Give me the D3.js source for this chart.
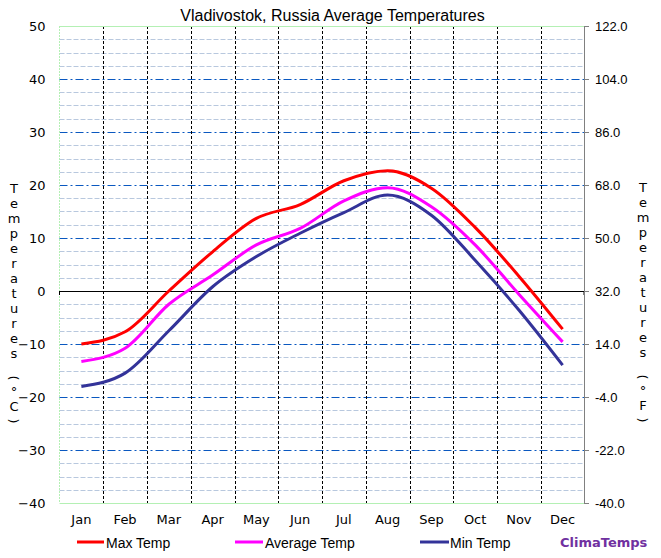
<!DOCTYPE html>
<html>
<head>
<meta charset="utf-8">
<script src="https://cdn.jsdelivr.net/npm/d3@7"></script>
<style>
  html, body { margin: 0; padding: 0; background: #ffffff; }
  svg { display: block; }
</style>
</head>
<body>
<svg id="chart" width="661" height="558"></svg>
<script>
// ---- data ----
const months = ["Jan","Feb","Mar","Apr","May","Jun","Jul","Aug","Sep","Oct","Nov","Dec"];
const maxTemp = [-10.0, -7.7, 0.0, 7.4, 13.7, 16.3, 20.8, 22.7, 19.4, 12.0, 2.8, -7.2];
const avgTemp = [-13.3, -10.8, -2.5, 3.0, 8.7, 11.8, 17.0, 19.5, 15.9, 8.7, -0.6, -9.6];
const minTemp = [-18.0, -15.5, -7.5, 0.8, 6.5, 10.9, 14.8, 18.1, 14.3, 5.8, -3.6, -14.0];
const cTicks = [50, 40, 30, 20, 10, 0, -10, -20, -30, -40];
const fTickLabels = ["122.0","104.0","86.0","68.0","50.0","32.0","14.0","-4.0","-22.0","-40.0"];
const seriesNames = ["Max Temp", "Average Temp", "Min Temp"];
const seriesColors = ["#ff0000", "#ff00ff", "#333399"];
const title = "Vladivostok, Russia Average Temperatures";
const leftTitle = "Temperatures (°C)";
const rightTitle = "Temperatures (°F)";

// ---- layout ----
const svg = d3.select("#chart");
const L = 59.5, R = 584.5, T = 26, B = 503;

const x = d3.scaleBand().domain(months).range([L, R]).padding(0);
const y = d3.scaleLinear().domain([-40, 50]).range([B, T]);
const yF = d3.scaleLinear().domain([-40, 122]).range([B, T]);
const xc = m => x(m) + x.bandwidth() / 2;

// minor gridlines every 2.5
const minorVals = d3.range(-40, 50.001, 2.5).filter(v => Math.abs(v % 10) > 0.001);
svg.append("g").selectAll("line").data(minorVals).join("line")
  .attr("x1", L).attr("x2", R)
  .attr("y1", d => Math.round(y(d)) + 0.5).attr("y2", d => Math.round(y(d)) + 0.5)
  .attr("stroke", "#b8c8de").attr("stroke-width", 1).attr("stroke-dasharray", "5,2");

// major gridlines (dash-dot)
const majorVals = cTicks.filter(v => v !== 50 && v !== 0 && v !== -40);
svg.append("g").selectAll("line").data(majorVals).join("line")
  .attr("x1", L).attr("x2", R)
  .attr("y1", d => Math.round(y(d)) + 0.5).attr("y2", d => Math.round(y(d)) + 0.5)
  .attr("stroke", "#0a58c0").attr("stroke-width", 1).attr("stroke-dasharray", "8,3,2,3");

// vertical month boundaries
svg.append("g").selectAll("line").data(months.slice(1)).join("line")
  .attr("x1", d => Math.round(x(d)) + 0.5).attr("x2", d => Math.round(x(d)) + 0.5)
  .attr("y1", T).attr("y2", B)
  .attr("stroke", "#000").attr("stroke-width", 1).attr("stroke-dasharray", "3,2");

// plot border (light green) top, bottom, left
svg.append("line").attr("x1", L).attr("x2", R).attr("y1", T + 0.5).attr("y2", T + 0.5)
  .attr("stroke", "#b4f0b4").attr("stroke-width", 1);
svg.append("line").attr("x1", L).attr("x2", R).attr("y1", B + 0.5).attr("y2", B + 0.5)
  .attr("stroke", "#b4f0b4").attr("stroke-width", 1);
svg.append("line").attr("x1", L).attr("x2", L).attr("y1", T).attr("y2", B)
  .attr("stroke", "#b4f0b4").attr("stroke-width", 1).attr("stroke-dasharray", "2,1");

// zero line
svg.append("line").attr("x1", L).attr("x2", R)
  .attr("y1", Math.round(y(0)) + 0.5).attr("y2", Math.round(y(0)) + 0.5)
  .attr("stroke", "#000").attr("stroke-width", 1.2);
svg.append("line").attr("x1", L).attr("x2", L).attr("y1", y(0)).attr("y2", y(0) + 4)
  .attr("stroke", "#000");
svg.append("line").attr("x1", R - 0.5).attr("x2", R - 0.5).attr("y1", y(0)).attr("y2", y(0) + 4)
  .attr("stroke", "#000");

// right axis
const rightAxis = d3.axisRight(yF)
  .tickValues(fTickLabels.map(Number))
  .tickFormat((d, i) => fTickLabels[i])
  .tickSize(5).tickPadding(6);
const gR = svg.append("g").attr("transform", `translate(${R - 0.5},0)`).call(rightAxis);
gR.select(".domain").attr("stroke", "#808080");
gR.selectAll(".tick line").attr("stroke", "#808080");
gR.selectAll("text").attr("font-family", "'Liberation Sans', Arial, sans-serif")
  .attr("font-size", "13px").attr("fill", "#000");

// left axis labels
const leftAxis = d3.axisLeft(y).tickValues(cTicks).tickSize(0).tickPadding(14);
const gL = svg.append("g").attr("transform", `translate(${L},0)`).call(leftAxis);
gL.select(".domain").remove();
gL.selectAll("text").attr("font-family", "'DejaVu Sans', Verdana, sans-serif")
  .attr("font-size", "13px").attr("fill", "#000");

// bottom month labels
const bottomAxis = d3.axisBottom(x).tickSize(0).tickPadding(12);
const gB = svg.append("g").attr("transform", `translate(0,${B})`).call(bottomAxis);
gB.select(".domain").remove();
gB.selectAll("text").attr("font-family", "'DejaVu Sans', Verdana, sans-serif")
  .attr("font-size", "13px").attr("fill", "#000");

// series lines
const allSeries = [maxTemp, avgTemp, minTemp];
const line = d3.line().x((d, i) => xc(months[i])).y(d => y(d)).curve(d3.curveMonotoneX);
svg.append("g").selectAll("path").data(allSeries).join("path")
  .attr("d", d => line(d))
  .attr("fill", "none")
  .attr("stroke", (d, i) => seriesColors[i])
  .attr("stroke-width", 3)
  .attr("stroke-linejoin", "round");

// title
svg.append("text").attr("x", 332.5).attr("y", 21)
  .attr("text-anchor", "middle")
  .attr("font-family", "'Liberation Sans', Arial, sans-serif")
  .attr("font-size", "16px").attr("fill", "#000").text(title);

// vertical stacked axis titles
function stackedTitle(str, cx, y0) {
  const g = svg.append("g");
  let yy = y0;
  const chars = Array.from(str);
  chars.forEach((ch, i) => {
    if (ch === " ") { yy += 10; return; }
    if (ch === "(" || ch === ")") {
      g.append("text")
        .attr("transform", `translate(${cx},${yy}) rotate(90)`)
        .attr("text-anchor", "middle").attr("dy", "0.35em")
        .attr("font-family", "'DejaVu Sans', Verdana, sans-serif")
        .attr("font-size", "13px").attr("fill", "#000").text(ch);
      yy += 13;
      return;
    }
    g.append("text").attr("x", cx).attr("y", yy)
      .attr("text-anchor", "middle").attr("dy", "0.35em")
      .attr("font-family", "'DejaVu Sans', Verdana, sans-serif")
      .attr("font-size", "13px").attr("fill", "#000").text(ch);
    yy += 15;
  });
}
stackedTitle(leftTitle, 14, 188);
stackedTitle(rightTitle, 643, 187);

// legend
const legendItems = [
  { x1: 77, x2: 104, tx: 106 },
  { x1: 235, x2: 263, tx: 265 },
  { x1: 420, x2: 449, tx: 450 }
];
const lg = svg.append("g");
seriesNames.forEach((name, i) => {
  const it = legendItems[i];
  lg.append("line").attr("x1", it.x1).attr("x2", it.x2).attr("y1", 542).attr("y2", 542)
    .attr("stroke", seriesColors[i]).attr("stroke-width", 3);
  lg.append("text").attr("x", it.tx).attr("y", 547.5)
    .attr("font-family", "'Liberation Sans', Arial, sans-serif")
    .attr("font-size", "14px").attr("fill", "#000").text(name);
});
lg.append("text").attr("x", 560).attr("y", 547)
  .attr("font-family", "'DejaVu Sans', Verdana, sans-serif")
  .attr("font-weight", "bold")
  .attr("font-size", "13px").attr("fill", "#7030a0").text("ClimaTemps");
</script>
</body>
</html>
